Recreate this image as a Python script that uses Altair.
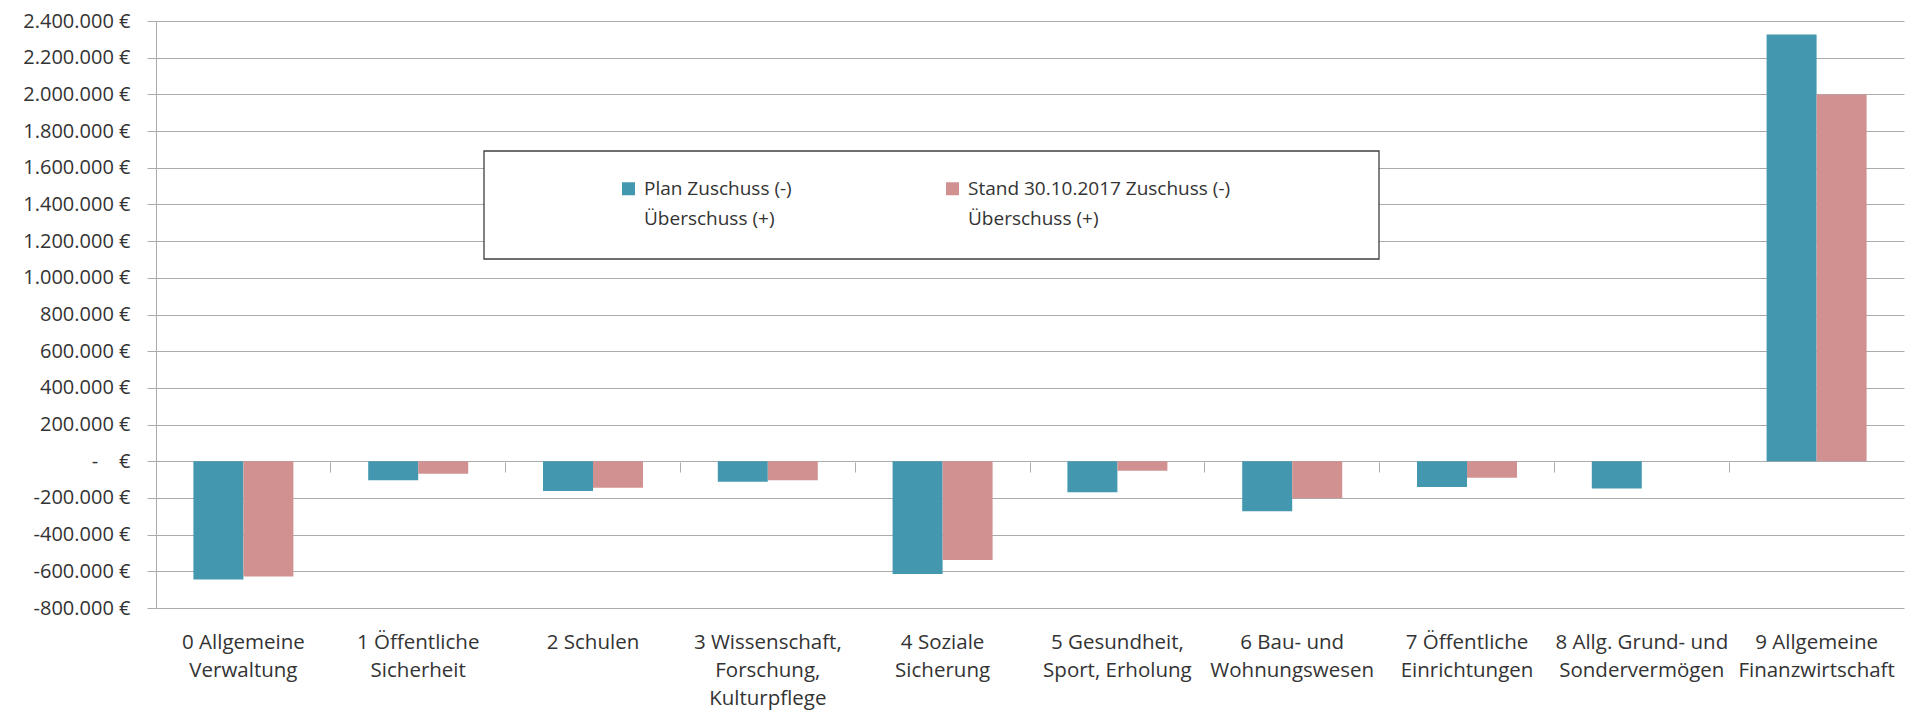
import altair as alt
import pandas as pd

categories = [
    "0 Allgemeine\nVerwaltung",
    "1 Öffentliche\nSicherheit",
    "2 Schulen",
    "3 Wissenschaft,\nForschung,\nKulturpflege",
    "4 Soziale\nSicherung",
    "5 Gesundheit,\nSport, Erholung",
    "6 Bau- und\nWohnungswesen",
    "7 Öffentliche\nEinrichtungen",
    "8 Allg. Grund- und\nSondervermögen",
    "9 Allgemeine\nFinanzwirtschaft",
]
series = [
    "Plan Zuschuss (-)\nÜberschuss (+)",
    "Stand 30.10.2017 Zuschuss (-)\nÜberschuss (+)",
]
plan = [-645000, -103000, -162000, -112000, -614000, -169000, -272000, -140000, -148000, 2327000]
stand = [-628000, -68000, -144000, -103000, -539000, -52000, -202000, -90000, None, 2000000]
colors = ["#4398B0", "#D29191"]
y_ticks = list(range(-800000, 2400001, 200000))

rows = []
for c, p, s in zip(categories, plan, stand):
    rows.append({"cat": c, "series": series[0], "value": p})
    rows.append({"cat": c, "series": series[1], "value": s})
df = pd.DataFrame(rows)

FONT = "Open Sans"
GRID = "#ABABAB"
TXT = "#333333"

xscale = alt.Scale(paddingInner=0, paddingOuter=0)

y_axis = alt.Axis(
    values=y_ticks, grid=True, gridColor=GRID, gridWidth=1,
    domain=True, domainColor=GRID, ticks=True, tickColor=GRID, tickSize=9,
    labelPadding=17, labelFontSize=20, labelColor=TXT, labelFont=FONT,
    title=None,
    labelExpr="datum.value == 0 ? '-\u00a0\u00a0\u00a0\u00a0€' : (datum.value < 0 ? '-' : '') + replace(format(abs(datum.value), ',d'), regexp(',', 'g'), '.') + '\u00a0€'",
)

label_axis = alt.Axis(
    orient="bottom", title=None, ticks=False, tickSize=0, domain=False,
    labelAngle=0, labelPadding=24, labelFontSize=20.5, labelFont=FONT,
    labelColor=TXT, labelLineHeight=28, labelBaseline="top",
    labelLimit=300, labelOverlap=False, labelBound=False, grid=False,
    labelExpr="split(datum.label, '\\n')",
)

tick_axis = alt.Axis(
    orient="bottom", title=None, labels=False, domain=False, grid=False,
    ticks=True, tickSize=10, tickColor=GRID, tickWidth=1, bandPosition=0,
    offset=-146,
)

bars = alt.Chart(df).mark_bar().encode(
    x=alt.X("cat:N", sort=categories, scale=xscale, axis=label_axis),
    xOffset=alt.XOffset("series:N", sort=series,
                        scale=alt.Scale(paddingInner=0, paddingOuter=0.748)),
    y=alt.Y("value:Q", scale=alt.Scale(domain=[-800000, 2400000], nice=False, zero=False),
            axis=y_axis),
    color=alt.Color("series:N", sort=series,
                    scale=alt.Scale(domain=series, range=colors),
                    legend=alt.Legend(
                        orient="none", legendX=463, legendY=158,
                        direction="horizontal", columns=2, columnPadding=151,
                        title=None, symbolType="square", symbolSize=169,
                        symbolStrokeWidth=0, labelFontSize=19, labelFont=FONT,
                        labelColor=TXT, labelLimit=600, labelOffset=6,
                        padding=0, labelBaseline="middle",
                        labelExpr="split(datum.label, '\\n')",
                    )),
)

ticks = alt.Chart(df).mark_point(opacity=0).encode(
    x=alt.X("cat:N", sort=categories, scale=xscale, axis=tick_axis),
)

box = alt.Chart(alt.Data(values=[{}])).mark_rect(
    fill="white", stroke="#3F3F3F", strokeWidth=1.3
).encode(
    x=alt.value(328), x2=alt.value(1223), y=alt.value(130), y2=alt.value(238)
)

chart = alt.layer(box, bars, ticks).resolve_axis(x="independent").properties(
    width=1748, height=587,
    autosize=alt.AutoSizeParams(type="none"),
    padding={"left": 148, "top": 13, "right": 1, "bottom": 103},
).configure(
    font=FONT, style={"guide-label": {"lineHeight": 30}}
).configure_view(stroke=None)

chart.save("out.html", embed_options={"renderer": "svg", "actions": False})
